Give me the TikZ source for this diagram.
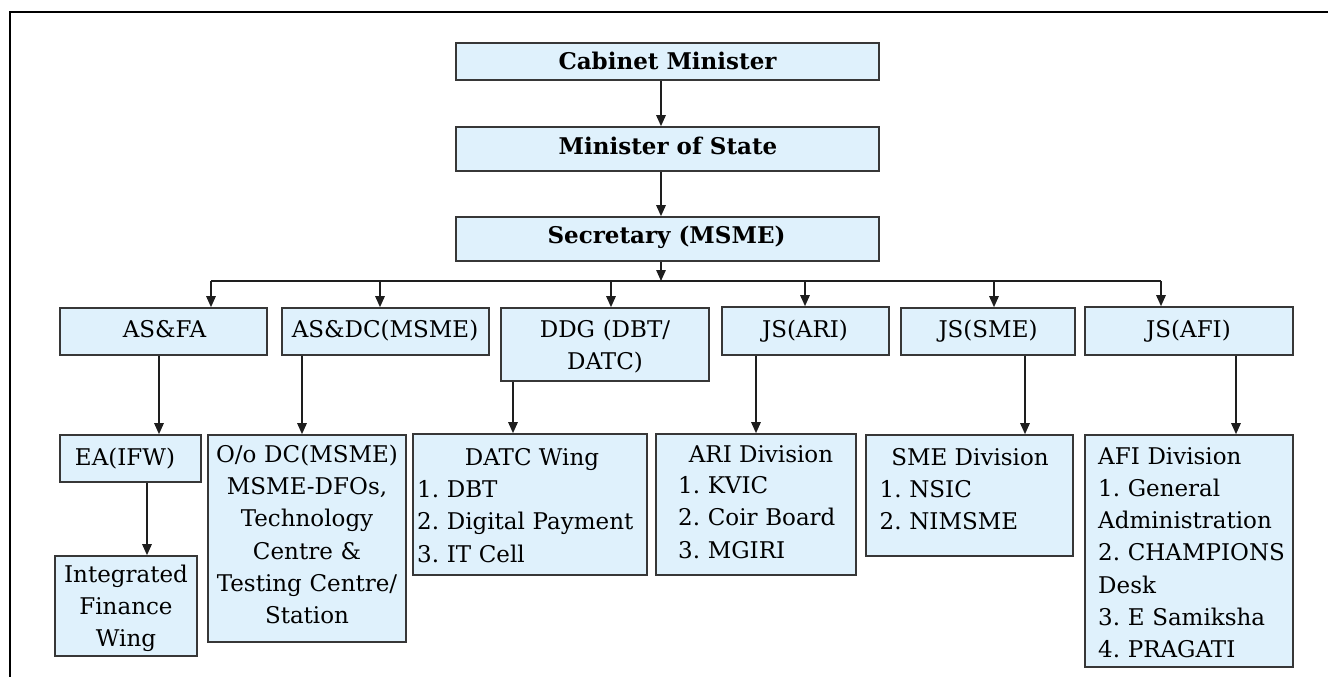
\documentclass[tikz,border=0pt]{standalone}
\usepackage{fontspec}
\setmainfont{DejaVu Serif}
\usetikzlibrary{arrows.meta}
\definecolor{boxfill}{RGB}{223,241,252}
\definecolor{boxline}{RGB}{55,55,55}
\definecolor{lineclr}{RGB}{30,30,30}
\newcommand{\mybox}[5]{\node[orgbox, minimum width={#4-#2}, minimum height={#5-#3}] (#1) at ({(#2+#4)/2},{(#3+#5)/2}) {};}
\tikzset{
  orgbox/.style={draw=boxline, fill=boxfill, line width=1.7pt, inner sep=0pt, rectangle},
  lbl/.style={font=\fontsize{23}{32.3}\selectfont\frenchspacing, inner sep=0pt, anchor=base},
  blbl/.style={lbl, font=\fontsize{23}{32.3}\selectfont\bfseries},
  mlbl/.style={font=\fontsize{23}{32.3}\selectfont\frenchspacing, inner sep=0pt, anchor=base, align=center},
  llbl/.style={font=\fontsize{23}{32.3}\selectfont\frenchspacing, inner sep=0pt, anchor=base west, align=left},
  arr/.style={draw=lineclr, line width=1.4pt, -{Triangle[length=11pt,width=9.5pt]}},
  conn/.style={draw=lineclr, line width=1.4pt},
  frame/.style={draw=black, line width=2pt}
}
\begin{document}
\frenchspacing
\begin{tikzpicture}[x=1pt,y=-1pt]
\useasboundingbox (0,0) rectangle (1328,677);
% outer frame
\coordinate (fl) at (9.5,677);
\coordinate (fc) at (9.5,12.5);
\coordinate (fr) at (1328,12.5);
\draw[frame] (fl) -- (fc) -- (fr);

% level 1
\mybox{cab}{456}{43}{879}{80}
\mybox{mos}{456}{127}{879}{171}
\mybox{sec}{456}{217}{879}{261}
\node[blbl] (cab-t) at (667.5,70) {Cabinet Minister};
\node[blbl] (mos-t) at (668,154) {Minister of State};
\node[blbl] (sec-t) at (666.5,243.5) {Secretary (MSME)};

% level 2
\mybox{asfa}{60}{308}{267}{355}
\mybox{asdc}{282}{308}{489}{355}
\mybox{ddg}{501}{308}{709}{381}
\mybox{jsari}{722}{307}{889}{355}
\mybox{jssme}{901}{308}{1075}{355}
\mybox{jsafi}{1085}{307}{1293}{355}
\node[lbl] (asfa-t) at (164.5,337.5) {AS\&FA};
\node[lbl] (asdc-t) at (385,337.5) {AS\&DC(MSME)};
\node[mlbl, text width=205pt] (ddg-t) at (605,337.5) {DDG (DBT/\\DATC)};
\node[lbl] (jsari-t) at (805,337.5) {JS(ARI)};
\node[lbl] (jssme-t) at (988,337.5) {JS(SME)};
\node[lbl] (jsafi-t) at (1188.5,337.5) {JS(AFI)};

% level 3
\mybox{ea}{60}{435}{201}{482}
\mybox{ifw}{55}{556}{197}{656}
\mybox{odc}{208}{435}{406}{642}
\mybox{datc}{413}{434}{647}{575}
\mybox{ari}{656}{434}{856}{575}
\mybox{sme}{866}{435}{1073}{556}
\mybox{afi}{1085}{435}{1293}{667}
\node[lbl] (ea-t) at (125,465) {EA(IFW)};
\node[mlbl, text width=140pt] (ifw-t) at (126,582.3) {Integrated\\Finance\\Wing};
\node[mlbl, text width=196pt] (odc-t) at (307,462.3) {O/o DC(MSME)\\MSME-DFOs,\\Technology\\Centre \&\\Testing Centre/\\Station};
\node[lbl] (datc-h) at (532,465) {DATC Wing};
\node[llbl, text width=230pt] (datc-t) at (417,497.5) {1. DBT\\2. Digital Payment\\3. IT Cell};
\node[lbl] (ari-h) at (761,462) {ARI Division};
\node[llbl, text width=175pt] (ari-t) at (678,493.5) {1. KVIC\\2. Coir Board\\3. MGIRI};
\node[lbl] (sme-h) at (970,465) {SME Division};
\node[llbl, text width=190pt] (sme-t) at (879.5,497.5) {1. NSIC\\2. NIMSME};
\node[llbl, text width=195pt] (afi-t) at (1098,464) {AFI Division\\1. General\\Administration\\2. CHAMPIONS\\Desk\\3. E Samiksha\\4. PRAGATI};

% x positions of connectors
\coordinate (bus) at (661,281);
\coordinate (x-asfa) at (211,0);
\coordinate (x-asdc) at (380,0);
\coordinate (x-ddg) at (611,0);
\coordinate (x-jsari) at (805,0);
\coordinate (x-jssme) at (994,0);
\coordinate (x-jsafi) at (1161,0);
\coordinate (x-ea) at (159,0);
\coordinate (x-ifw) at (147,0);
\coordinate (x-odc) at (302,0);
\coordinate (x-datc) at (513,0);
\coordinate (x-ari) at (756,0);
\coordinate (x-sme) at (1025,0);
\coordinate (x-afi) at (1236,0);

% connectors level 1
\draw[arr] (cab.south -| bus) -- (mos.north -| bus);
\draw[arr] (mos.south -| bus) -- (sec.north -| bus);
\draw[arr] (sec.south -| bus) -- (bus);
\draw[conn] (bus -| x-asfa) -- (bus -| x-jsafi);
\draw[arr] (bus -| x-asfa) -- (asfa.north -| x-asfa);
\draw[arr] (bus -| x-asdc) -- (asdc.north -| x-asdc);
\draw[arr] (bus -| x-ddg) -- (ddg.north -| x-ddg);
\draw[arr] (bus -| x-jsari) -- (jsari.north -| x-jsari);
\draw[arr] (bus -| x-jssme) -- (jssme.north -| x-jssme);
\draw[arr] (bus -| x-jsafi) -- (jsafi.north -| x-jsafi);

% connectors level 2 -> 3
\draw[arr] (asfa.south -| x-ea) -- (ea.north -| x-ea);
\draw[arr] (ea.south -| x-ifw) -- (ifw.north -| x-ifw);
\draw[arr] (asdc.south -| x-odc) -- (odc.north -| x-odc);
\draw[arr] (ddg.south -| x-datc) -- (datc.north -| x-datc);
\draw[arr] (jsari.south -| x-ari) -- (ari.north -| x-ari);
\draw[arr] (jssme.south -| x-sme) -- (sme.north -| x-sme);
\draw[arr] (jsafi.south -| x-afi) -- (afi.north -| x-afi);
\end{tikzpicture}
\end{document}
